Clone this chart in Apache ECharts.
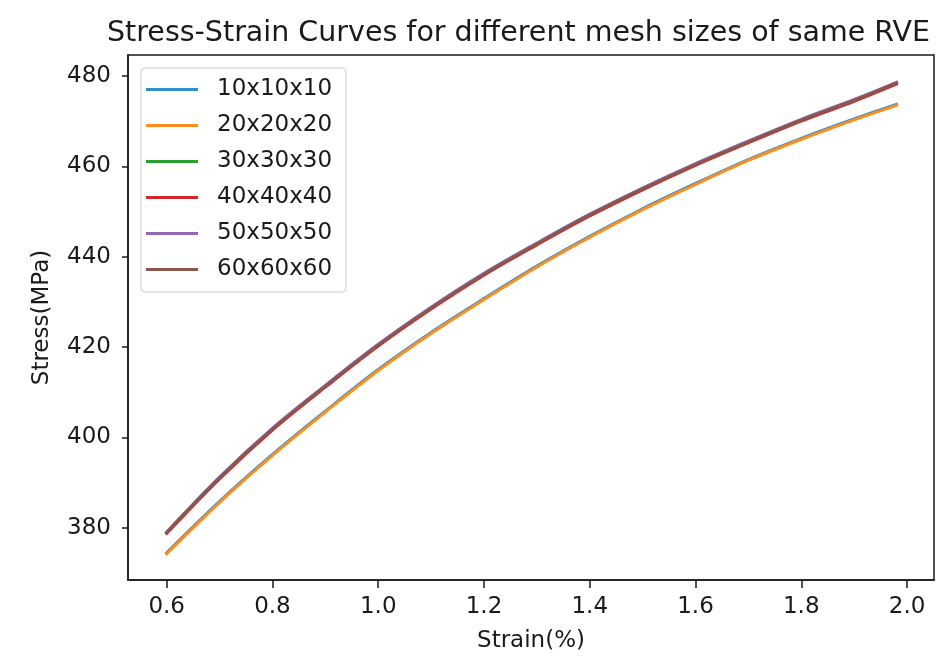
<!DOCTYPE html>
<html>
<head>
<meta charset="utf-8">
<script src="https://cdn.jsdelivr.net/npm/echarts@6/dist/echarts.min.js"></script>
<style>html,body{margin:0;padding:0;background:#fff}#c{width:945px;height:660px}</style>
</head>
<body>
<div id="c"></div>
<script>
const strain = [0.6, 0.7, 0.8, 0.9, 1.0, 1.1, 1.2, 1.3, 1.4, 1.5, 1.6, 1.7, 1.8, 1.9, 1.98];
const s10 = [374.4, 385.8, 396.2, 405.8, 415.0, 423.2, 430.7, 437.9, 444.5, 450.6, 456.2, 461.5, 466.2, 470.5, 473.7];
const s20 = [374.2, 385.6, 396.0, 405.6, 414.8, 423.0, 430.5, 437.7, 444.3, 450.4, 456.0, 461.3, 466.0, 470.3, 473.5];
const s30 = [378.9, 391.0, 401.8, 411.4, 420.5, 428.7, 436.2, 442.9, 449.3, 455.1, 460.5, 465.5, 470.3, 474.7, 478.5];
const s40 = [378.7, 390.8, 401.6, 411.1, 420.2, 428.4, 435.9, 442.6, 449.0, 454.8, 460.2, 465.2, 470.0, 474.4, 478.2];
const s50 = [379.0, 391.2, 402.0, 411.5, 420.6, 428.8, 436.3, 443.0, 449.4, 455.2, 460.6, 465.6, 470.4, 474.8, 478.6];
const s60 = [378.9, 391.0, 401.8, 411.3, 420.4, 428.6, 436.1, 442.8, 449.2, 455.0, 460.4, 465.4, 470.2, 474.6, 478.4];
const seriesNames = ['10x10x10', '20x20x20', '30x30x30', '40x40x40', '50x50x50', '60x60x60'];
const seriesValues = [s10, s20, s30, s40, s50, s60];
const xTicks = [0.6, 0.8, 1.0, 1.2, 1.4, 1.6, 1.8, 2.0];
const yTicks = [380, 400, 420, 440, 460, 480];

const colors = ['#2f8fcf', '#ff8c1e', '#2ca02c', '#d62728', '#9467bd', '#8c564b'];
const FONT = 'DejaVu Sans';

const chart = echarts.init(document.getElementById('c'), null, {renderer: 'canvas'});
chart.setOption({
  animation: false,
  backgroundColor: '#ffffff',
  color: colors,
  title: {
    text: 'Stress-Strain Curves for different mesh sizes of same RVE',
    left: 102, top: 14,
    textStyle: {fontFamily: FONT, fontSize: 28.5, fontWeight: 'normal', color: '#1a1a1a'}
  },
  grid: {left: 128, right: 11, top: 55, bottom: 80, containLabel: false, outerBoundsMode: 'none',
    show: true, borderColor: '#1a1a1a', borderWidth: 1.5, backgroundColor: 'transparent'},
  legend: {
    orient: 'vertical', left: 141, top: 68,
    data: seriesNames,
    icon: 'rect', itemWidth: 52, itemHeight: 3, itemGap: 11,
    padding: [9, 14, 10, 5],
    backgroundColor: '#ffffff', borderColor: '#cccccc', borderWidth: 1, borderRadius: 4,
    textStyle: {fontFamily: FONT, fontSize: 23, color: '#1a1a1a', lineHeight: 25, padding: [0, 0, 0, 14]}
  },
  xAxis: {
    type: 'value', min: 0.5268, max: 2.051,
    name: 'Strain(%)', nameLocation: 'middle', nameGap: 50,
    nameTextStyle: {fontFamily: FONT, fontSize: 23, color: '#1a1a1a'},
    axisLine: {show: true, lineStyle: {color: '#1a1a1a', width: 1.5}},
    axisTick: {show: true, inside: false, length: 8, lineStyle: {color: '#1a1a1a', width: 1.5}, customValues: xTicks},
    axisLabel: {fontFamily: FONT, fontSize: 23, color: '#1a1a1a', margin: 16, customValues: xTicks, formatter: v => v.toFixed(1)},
    splitLine: {show: false}
  },
  yAxis: {
    type: 'value', min: 368.4, max: 484.65,
    name: 'Stress(MPa)', nameLocation: 'middle', nameGap: 74, nameRotate: 90,
    nameTextStyle: {fontFamily: FONT, fontSize: 23, color: '#1a1a1a'},
    axisLine: {show: true, lineStyle: {color: '#1a1a1a', width: 1.5}},
    axisTick: {show: true, inside: false, length: 6, lineStyle: {color: '#1a1a1a', width: 1.5}, customValues: yTicks},
    axisLabel: {fontFamily: FONT, fontSize: 23, color: '#1a1a1a', margin: 17, customValues: yTicks},
    splitLine: {show: false}
  },
  series: seriesNames.map((n, i) => ({
    name: n, type: 'line', smooth: 0.35, showSymbol: false, symbol: 'none',
    data: strain.map((x, j) => [x, seriesValues[i][j]]),
    lineStyle: {width: 3, cap: 'square', color: colors[i]},
    itemStyle: {color: colors[i]}
  }))
});
</script>
</body>
</html>
